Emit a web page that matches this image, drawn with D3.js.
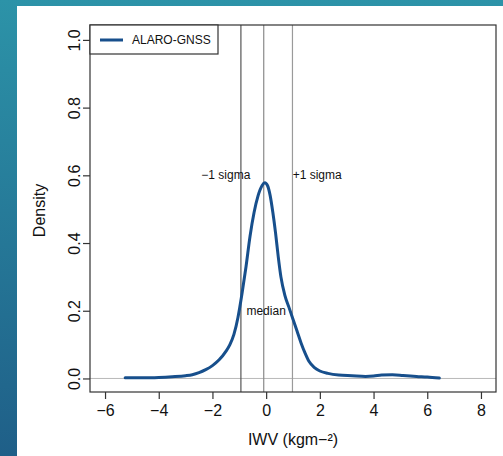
<!DOCTYPE html>
<html>
<head>
<meta charset="utf-8">
<script src="https://cdn.jsdelivr.net/npm/d3@7/dist/d3.min.js"></script>
<style>
  html, body { margin: 0; padding: 0; }
  body { width: 503px; height: 456px; overflow: hidden; }
  svg { display: block; }
  svg text { font-family: "Liberation Sans", Arial, Helvetica, sans-serif; }
</style>
</head>
<body>
<svg id="chart" width="503" height="456"></svg>
<script>
// ---- data ----
const seriesName = "ALARO-GNSS";
const densityX = [-5.25, -4.5, -4.0, -3.5, -3.0, -2.75, -2.5, -2.25, -2.0, -1.75, -1.5, -1.35, -1.2, -1.05, -0.9, -0.75, -0.6, -0.45, -0.3, -0.15, -0.05, 0.05, 0.15, 0.25, 0.35, 0.45, 0.55, 0.7, 0.85, 1.0, 1.15, 1.3, 1.45, 1.6, 1.8, 2.0, 2.3, 2.7, 3.2, 3.7, 4.0, 4.3, 4.7, 5.1, 5.6, 6.0, 6.45];
const densityY = [0.002, 0.002, 0.003, 0.005, 0.008, 0.011, 0.017, 0.026, 0.038, 0.055, 0.080, 0.100, 0.130, 0.180, 0.250, 0.330, 0.420, 0.490, 0.540, 0.570, 0.578, 0.570, 0.540, 0.490, 0.430, 0.360, 0.300, 0.245, 0.210, 0.175, 0.140, 0.105, 0.075, 0.050, 0.032, 0.022, 0.015, 0.010, 0.008, 0.006, 0.007, 0.010, 0.011, 0.009, 0.006, 0.004, 0.001];
const xTicks = [-6, -4, -2, 0, 2, 4, 6, 8];
const yTicks = [0.0, 0.2, 0.4, 0.6, 0.8, 1.0];
const refLines = [
  { name: "-1 sigma", x: -0.94 },
  { name: "median", x: -0.09 },
  { name: "+1 sigma", x: 0.98 }
];
const refLabels = [
  { text: "\u22121 sigma", x: -1.5, y: 0.6 },
  { text: "+1 sigma", x: 1.9, y: 0.6 },
  { text: "median", x: 0.0, y: 0.2 }
];
const xLimits = [-6.56, 8.56];
const yLimits = [-0.04, 1.044];

// ---- layout ----
const svg = d3.select("#chart");
const W = 503, H = 456;
const box = { left: 90, right: 496, top: 25, bottom: 392 };
const FONT = "'Liberation Sans', Arial, Helvetica, sans-serif";

// background
const defs = svg.append("defs");
const grad = defs.append("linearGradient").attr("id", "bg").attr("x1", 0).attr("y1", 0).attr("x2", 0).attr("y2", 1);
grad.append("stop").attr("offset", "0%").attr("stop-color", "#2c93a8");
grad.append("stop").attr("offset", "100%").attr("stop-color", "#1f5f88");
svg.append("rect").attr("x", 0).attr("y", 0).attr("width", W).attr("height", H).attr("fill", "url(#bg)");
svg.append("rect").attr("x", 17).attr("y", 6).attr("width", W - 17).attr("height", H - 6).attr("fill", "#ffffff");

const x = d3.scaleLinear().domain(xLimits).range([box.left, box.right]);
const y = d3.scaleLinear().domain(yLimits).range([box.bottom, box.top]);

const clip = defs.append("clipPath").attr("id", "plotclip");
clip.append("rect").attr("x", box.left).attr("y", box.top).attr("width", box.right - box.left).attr("height", box.bottom - box.top);

const plot = svg.append("g").attr("clip-path", "url(#plotclip)");

// zero line
plot.append("line")
  .attr("x1", box.left).attr("x2", box.right)
  .attr("y1", y(0)).attr("y2", y(0))
  .attr("stroke", "#b8b8b8").attr("stroke-width", 1);

// reference vertical lines
const refColors = ["#555555", "#8a8a8a", "#9a9a9a"];
plot.selectAll("line.ref").data(refLines).join("line")
  .attr("class", "ref")
  .attr("x1", d => x(d.x)).attr("x2", d => x(d.x))
  .attr("y1", box.top).attr("y2", box.bottom)
  .attr("stroke", (d, i) => refColors[i]).attr("stroke-width", 1.2);

// density curve
const pts = densityX.map((v, i) => [v, densityY[i]]);
plot.append("path")
  .datum(pts)
  .attr("fill", "none")
  .attr("stroke", "#174f8c")
  .attr("stroke-width", 3)
  .attr("stroke-linejoin", "round")
  .attr("stroke-linecap", "round")
  .attr("d", d3.line().x(d => x(d[0])).y(d => y(d[1])).curve(d3.curveMonotoneX));

// labels
svg.selectAll("text.ref").data(refLabels).join("text")
  .attr("class", "ref")
  .attr("x", d => x(d.x)).attr("y", d => y(d.y))
  .attr("text-anchor", "middle").attr("dominant-baseline", "central")
  .style("font-family", FONT).attr("font-size", 12).attr("fill", "#111")
  .text(d => d.text);

// box
svg.append("rect")
  .attr("x", box.left).attr("y", box.top)
  .attr("width", box.right - box.left).attr("height", box.bottom - box.top)
  .attr("fill", "none").attr("stroke", "#333").attr("stroke-width", 1.2);

// x axis
const xAxis = svg.append("g").attr("transform", `translate(0,${box.bottom})`)
  .call(d3.axisBottom(x).tickValues(xTicks).tickSize(7).tickSizeOuter(0).tickPadding(6)
    .tickFormat(d => d3.format("")(d).replace("-", "\u2212")));
xAxis.select(".domain").remove();
xAxis.selectAll("line").attr("stroke", "#333").attr("stroke-width", 1.2);
xAxis.selectAll("text").attr("font-size", 16).attr("fill", "#111").style("font-family", FONT);

// y axis
const yAxis = svg.append("g").attr("transform", `translate(${box.left},0)`)
  .call(d3.axisLeft(y).tickValues(yTicks).tickSize(7).tickSizeOuter(0).tickFormat(d3.format(".1f")));
yAxis.select(".domain").remove();
yAxis.selectAll("line").attr("stroke", "#333").attr("stroke-width", 1.2);
yAxis.selectAll("text")
  .attr("font-size", 16).attr("fill", "#111").style("font-family", FONT)
  .attr("x", null).attr("dy", null)
  .attr("text-anchor", "middle")
  .attr("transform", "translate(-10,0) rotate(-90)");

// axis titles
svg.append("text")
  .attr("x", (box.left + box.right) / 2).attr("y", 445)
  .attr("text-anchor", "middle").attr("font-size", 16).attr("fill", "#111").style("font-family", FONT)
  .text("IWV (kgm\u2212\u00b2)");
svg.append("text")
  .attr("transform", `translate(45,${(box.top + box.bottom) / 2 + 2}) rotate(-90)`)
  .attr("text-anchor", "middle").attr("font-size", 16).attr("fill", "#111").style("font-family", FONT)
  .text("Density");

// legend
const leg = svg.append("g");
leg.append("rect").attr("x", box.left).attr("y", box.top).attr("width", 128).attr("height", 29)
  .attr("fill", "#fff").attr("stroke", "#333").attr("stroke-width", 1.2);
leg.append("line").attr("x1", 100).attr("x2", 123).attr("y1", 40).attr("y2", 40)
  .attr("stroke", "#174f8c").attr("stroke-width", 3);
leg.append("text").attr("x", 132).attr("y", 40).attr("dominant-baseline", "central")
  .style("font-family", FONT).attr("font-size", 12).attr("fill", "#111").text(seriesName);
</script>
</body>
</html>
